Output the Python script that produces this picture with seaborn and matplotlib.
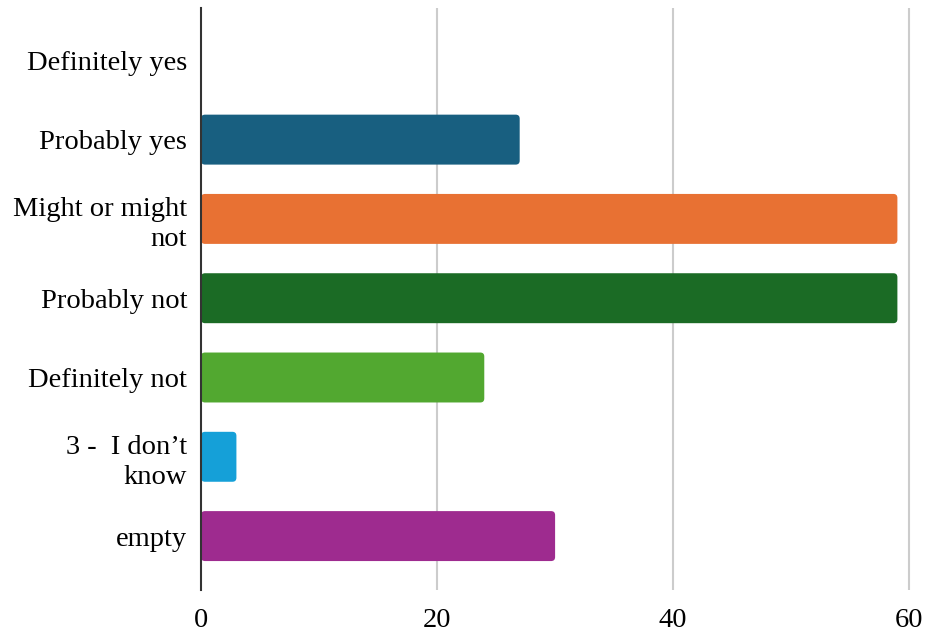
import matplotlib
matplotlib.use("Agg")
import matplotlib.pyplot as plt
import seaborn as sns
import pandas as pd
from matplotlib.patches import FancyBboxPatch

categories = ["Definitely yes", "Probably yes", "Might or might\nnot", "Probably not",
              "Definitely not", "3 -  I don\u2019t\nknow", "empty"]
values = [0, 27, 59, 59, 24, 3, 30]
colors = ["#3366cc", "#185f80", "#e87133", "#1b6b25", "#52a830", "#15a0d8", "#9e2b8f"]
xticks = [0, 20, 40, 60]

sns.set_theme(style="white")
plt.rcParams["font.family"] = ["Liberation Serif", "DejaVu Serif"]

df = pd.DataFrame({"cat": categories, "val": values})

fig = plt.figure(figsize=(9.25, 6.38), dpi=100)
left = 201 / 925
width = 720 / 925
bottom = 1 - 590 / 638
top = 1 - 8 / 638
ax = fig.add_axes([left, bottom, width, top - bottom])

sns.barplot(data=df, x="val", y="cat", hue="cat", palette=colors, orient="h",
            width=0.63, legend=False, ax=ax, saturation=1)

ax.set_xlim(0, 61)
ax.set_ylim(6.68, -0.66)

# replace rectangles with rounded ones
xpx = 720 / 61
ypx = 582 / 7.34
r = 4 / xpx
aspect = xpx / ypx
patches = list(ax.patches)
for p in patches:
    x, y = p.get_x(), p.get_y()
    w, h = p.get_width(), p.get_height()
    fc = p.get_facecolor()
    p.remove()
    if w <= 0:
        continue
    fb = FancyBboxPatch((x, y), w, h, boxstyle=f"round,pad=0,rounding_size={r}",
                        mutation_aspect=aspect, facecolor=fc, edgecolor="none", zorder=2)
    ax.add_patch(fb)

ax.set_xticks(xticks)
ax.set_xticklabels([str(t) for t in xticks])
for t in xticks[1:]:
    ax.axvline(t, color="#cccccc", linewidth=1.5, zorder=1)

ax.set_xlabel("")
ax.set_ylabel("")
for s in ["top", "right", "bottom"]:
    ax.spines[s].set_visible(False)
ax.spines["left"].set_color("#333333")
ax.spines["left"].set_linewidth(1.5)
ax.spines["left"].set_zorder(3)
ax.tick_params(axis="both", length=0, labelsize=20.5, colors="black")
ax.tick_params(axis="x", pad=13)
ax.tick_params(axis="y", pad=10)
for lbl in ax.get_yticklabels():
    lbl.set_linespacing(1.25)

fig.savefig("out.png", dpi=100, facecolor="white")
